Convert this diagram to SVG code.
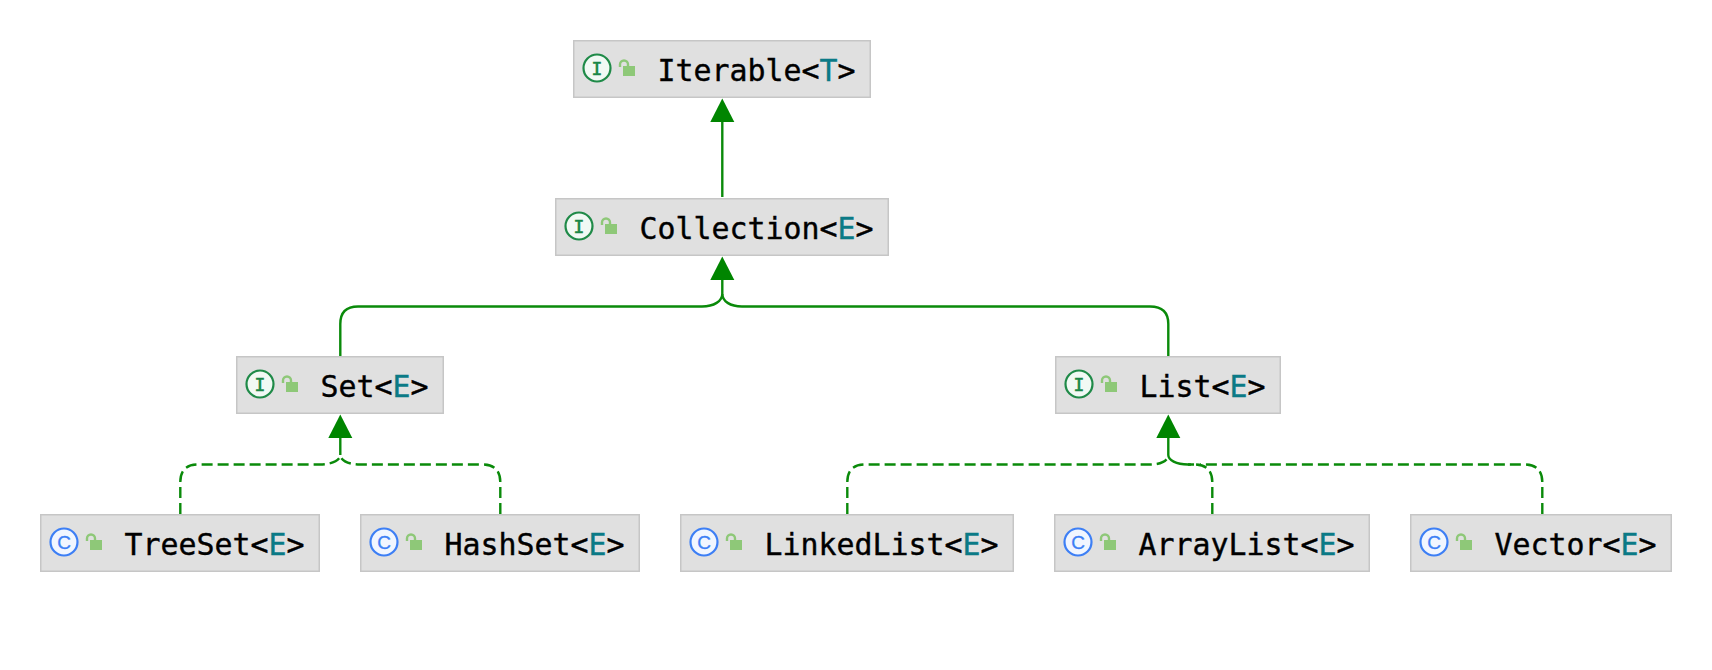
<svg xmlns="http://www.w3.org/2000/svg" width="1712" height="670" viewBox="0 0 1712 670">
<style>
.box{fill:#e0e0e0;stroke:#c6c6c6;stroke-width:1.5}
.lbl{font-family:"DejaVu Sans Mono","Liberation Mono",monospace;font-size:29.9px;fill:#000;stroke:#000;stroke-width:.4}
.tp{fill:#0b7a86;stroke:#0b7a86}
.ic{font-family:"DejaVu Sans Mono","Liberation Mono",monospace;font-size:18px;text-anchor:middle}
.ii{fill:#f1f9f4;stroke:#1f8a48;stroke-width:2.200}
.ci{fill:#f1f6ff;stroke:#3d7ff5;stroke-width:2.200}
.it{fill:#1a8646;stroke:#1a8646;stroke-width:.6}
.ct{fill:#3d7ff5;stroke:#3d7ff5;stroke-width:.3;font-family:"Liberation Sans",Arial,sans-serif;font-size:19px}
.lk{fill:#8ec878}
.sh{fill:none;stroke:#8ec878;stroke-width:2.400}
.e{fill:none;stroke:#0a8a0a;stroke-width:2.400}
.d{stroke-dasharray:11 5}
.h{fill:#008500}
</style>
<defs>
<g id="lock"><rect class="lk" x="50" y="26" width="12" height="10"/><path class="sh" d="M47 27V24.500a4 4 0 0 1 8 0V26"/></g>
<g id="arrow"><path class="h" d="M0 0L12 23.500H-12Z"/></g>
</defs>
<g id="connectors">
<path class="e" d="M722.300 120V197"/>
<path class="e" d="M722.300 278V294C722.300 301 714 306.500 702 306.500H358Q340.300 306.500 340.300 324V356"/>
<path class="e" d="M722.300 294C722.300 301 730 306.500 742 306.500H1150Q1168.300 306.500 1168.300 324V356"/>
<path class="e" d="M340.300 436V455"/>
<path class="e d" d="M180.300 514V482Q180.300 464.500 198 464.500H320C332 464.500 340.300 460 340.300 455"/>
<path class="e d" d="M500.300 514V482Q500.300 464.500 482 464.500H360C348 464.500 340.300 460 340.300 455"/>
<path class="e" d="M1168.300 436V455"/>
<path class="e d" d="M847.300 514V482Q847.300 464.500 865 464.500H1150C1162 464.500 1168.300 460 1168.300 455"/>
<path class="e d" d="M1212.300 514V482Q1212.300 464.500 1194 464.500H1188"/>
<path class="e" d="M1168.300 455C1168.300 460 1176 464.500 1188 464.500H1194"/>
<path class="e d" d="M1542.300 514V482Q1542.300 464.500 1524 464.500H1200"/>
<use href="#arrow" x="722.300" y="98.500"/>
<use href="#arrow" x="722.300" y="256.500"/>
<use href="#arrow" x="340.300" y="414.500"/>
<use href="#arrow" x="1168.300" y="414.500"/>
</g>
<g id="iterable" transform="translate(573 40)"><rect class="box" x="0.750" y="0.750" width="296.500" height="56.500"/><circle class="ii" cx="24" cy="28" r="13.500"/><text class="ic it" x="24" y="34.500">I</text><use href="#lock"/><text class="lbl" x="84.500" y="40.500">Iterable&lt;<tspan class="tp">T</tspan>&gt;</text></g>
<g id="collection" transform="translate(555 198)"><rect class="box" x="0.750" y="0.750" width="332.500" height="56.500"/><circle class="ii" cx="24" cy="28" r="13.500"/><text class="ic it" x="24" y="34.500">I</text><use href="#lock"/><text class="lbl" x="84.500" y="40.500">Collection&lt;<tspan class="tp">E</tspan>&gt;</text></g>
<g id="set" transform="translate(236 356)"><rect class="box" x="0.750" y="0.750" width="206.500" height="56.500"/><circle class="ii" cx="24" cy="28" r="13.500"/><text class="ic it" x="24" y="34.500">I</text><use href="#lock"/><text class="lbl" x="84.500" y="40.500">Set&lt;<tspan class="tp">E</tspan>&gt;</text></g>
<g id="list" transform="translate(1055 356)"><rect class="box" x="0.750" y="0.750" width="224.500" height="56.500"/><circle class="ii" cx="24" cy="28" r="13.500"/><text class="ic it" x="24" y="34.500">I</text><use href="#lock"/><text class="lbl" x="84.500" y="40.500">List&lt;<tspan class="tp">E</tspan>&gt;</text></g>
<g id="treeset" transform="translate(40 514)"><rect class="box" x="0.750" y="0.750" width="278.500" height="56.500"/><circle class="ci" cx="24" cy="28" r="13.500"/><text class="ic ct" x="24" y="34.800">C</text><use href="#lock"/><text class="lbl" x="84.500" y="40.500">TreeSet&lt;<tspan class="tp">E</tspan>&gt;</text></g>
<g id="hashset" transform="translate(360 514)"><rect class="box" x="0.750" y="0.750" width="278.500" height="56.500"/><circle class="ci" cx="24" cy="28" r="13.500"/><text class="ic ct" x="24" y="34.800">C</text><use href="#lock"/><text class="lbl" x="84.500" y="40.500">HashSet&lt;<tspan class="tp">E</tspan>&gt;</text></g>
<g id="linkedlist" transform="translate(680 514)"><rect class="box" x="0.750" y="0.750" width="332.500" height="56.500"/><circle class="ci" cx="24" cy="28" r="13.500"/><text class="ic ct" x="24" y="34.800">C</text><use href="#lock"/><text class="lbl" x="84.500" y="40.500">LinkedList&lt;<tspan class="tp">E</tspan>&gt;</text></g>
<g id="arraylist" transform="translate(1054 514)"><rect class="box" x="0.750" y="0.750" width="314.500" height="56.500"/><circle class="ci" cx="24" cy="28" r="13.500"/><text class="ic ct" x="24" y="34.800">C</text><use href="#lock"/><text class="lbl" x="84.500" y="40.500">ArrayList&lt;<tspan class="tp">E</tspan>&gt;</text></g>
<g id="vector" transform="translate(1410 514)"><rect class="box" x="0.750" y="0.750" width="260.500" height="56.500"/><circle class="ci" cx="24" cy="28" r="13.500"/><text class="ic ct" x="24" y="34.800">C</text><use href="#lock"/><text class="lbl" x="84.500" y="40.500">Vector&lt;<tspan class="tp">E</tspan>&gt;</text></g>
</svg>
